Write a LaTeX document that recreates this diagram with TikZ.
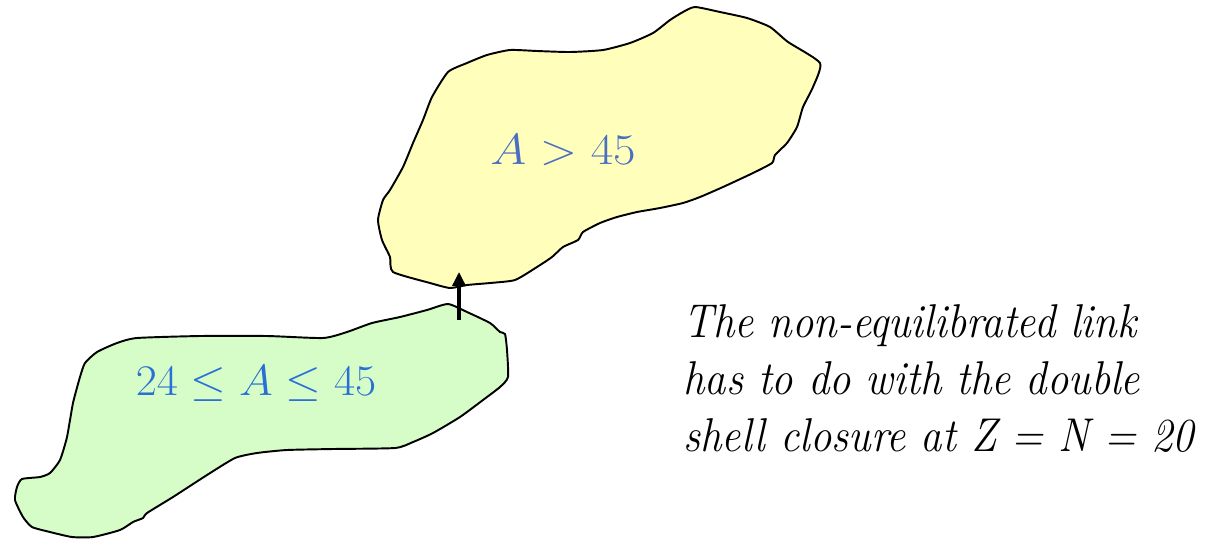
\documentclass[tikz,border=0pt]{standalone}
\usepackage{graphicx}
\usetikzlibrary{arrows.meta}
\definecolor{RegionHiFill}{RGB}{255,255,187}
\definecolor{RegionLoFill}{RGB}{214,253,200}
\definecolor{RegionHiText}{RGB}{74,110,194}
\definecolor{RegionLoText}{RGB}{42,111,214}
\begin{document}
\begin{tikzpicture}[x=0.02cm,y=-0.02cm,
  blob/.style={draw=black,line width=1.1pt,fill=#1},
  lbl/.style={inner sep=0pt,text=#1,font=\fontsize{31}{36}\selectfont},
  note/.style={inner sep=0pt,font=\fontsize{27}{32.5}\selectfont\itshape},
  lnk/.style={line width=1.8pt,-{Triangle[length=8pt,width=7.5pt]}}]
\useasboundingbox (0,0) rectangle (1222,538);
% upper region
\draw[blob=RegionHiFill] plot[smooth cycle,tension=0.35] coordinates {
  (695,7) (720,12) (747,18) (770,27) (788,42) (820,63) (813,87) (803,107)
  (797,127) (787,143) (775,155) (772,163) (753,173) (723,187) (700,197)
  (683,203) (660,208) (637,212) (617,217) (600,223) (583,232) (578,240)
  (563,247) (552,257) (537,267) (515,280) (490,283) (467,285) (450,288)
  (430,283) (393,272) (390,257) (382,240) (378,220) (383,200) (390,190)
  (403,167) (413,143) (423,120) (432,97) (448,72) (467,63) (487,55)
  (510,50) (537,51) (570,52) (603,50) (630,43) (653,33) (670,20) (683,12)};
% lower region
\draw[blob=RegionLoFill] plot[smooth cycle,tension=0.35] coordinates {
  (448,304) (467,312) (490,323) (500,332) (505,334) (507,350) (508,377)
  (500,387) (483,400) (460,417) (433,433) (413,442) (395,448) (333,449)
  (287,450) (257,453) (235,458) (207,475) (173,497) (147,513) (143,518)
  (133,522) (120,530) (93,537) (72,537) (50,532) (32,527) (23,517)
  (15,500) (17,487) (22,479) (40,477) (50,473) (60,460) (67,437)
  (73,403) (80,377) (85,363) (97,352) (117,343) (137,338) (200,336)
  (267,336) (323,338) (347,332) (372,323) (400,317) (427,310)};
\node[lbl=RegionHiText] (hi) at (563,150) {\scalebox{1.12}[1]{$A>45$}};
\node[lbl=RegionLoText] (lo) at (256,384) {\scalebox{1.05}[1]{$24\leq A\leq 45$}};
\coordinate (lnkS) at (459,320);
\coordinate (lnkE) at (459,272);
\draw[lnk] (lnkS) -- (lnkE);
\node[note,anchor=north west] (txt) at (683,297)
  {\scalebox{0.90}[1]{\begin{tabular}{@{}l@{}}The non-equilibrated link\\
   has to do with the double\\shell closure at Z = N = 20\end{tabular}}};
\end{tikzpicture}
\end{document}
